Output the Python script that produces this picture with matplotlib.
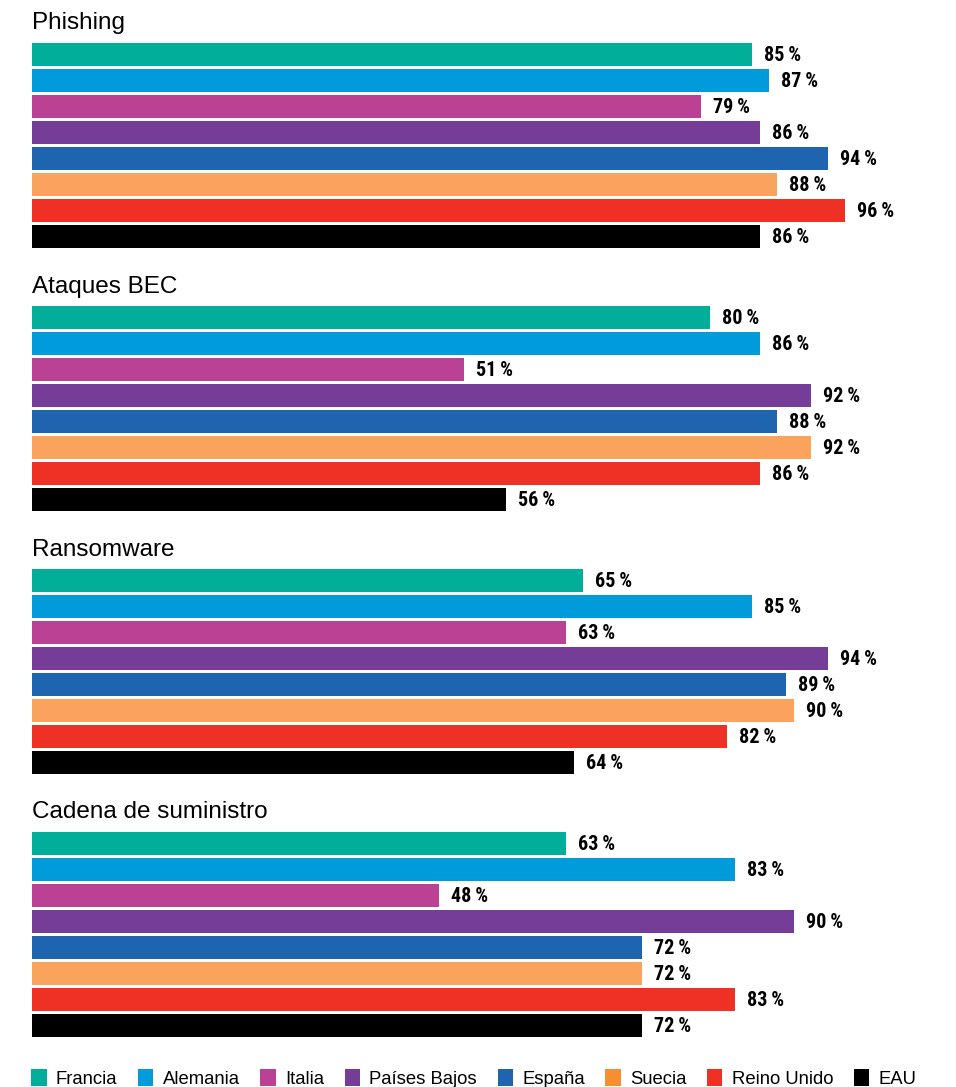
import matplotlib
matplotlib.use("Agg")
import matplotlib.pyplot as plt
from matplotlib.patches import Patch

countries = ["Francia", "Alemania", "Italia", "Países Bajos", "España",
             "Suecia", "Reino Unido", "EAU"]
colors = ["#00ae9a", "#009bdb", "#bb4194", "#763d98", "#1f64ae",
          "#f9a35c", "#ee3124", "#000000"]
legend_colors = ["#00ae9a", "#009bdb", "#bb4194", "#763d98", "#1f64ae",
                 "#f68f30", "#ee3124", "#000000"]

panel_titles = ["Phishing", "Ataques BEC", "Ransomware", "Cadena de suministro"]
phishing = [85, 87, 79, 86, 94, 88, 96, 86]
bec = [80, 86, 51, 92, 88, 92, 86, 56]
ransomware = [65, 85, 63, 94, 89, 90, 82, 64]
supply_chain = [63, 83, 48, 90, 72, 72, 83, 72]
panel_values = [phishing, bec, ransomware, supply_chain]

W, H = 956, 1087
fig = plt.figure(figsize=(W / 100, H / 100), dpi=100)

label_font = ["Liberation Sans Narrow", "Roboto Condensed", "DejaVu Sans"]
title_font = ["Liberation Sans", "DejaVu Sans"]

left_px = 32
width_px = 847  # 100 %
pitch = 26
first_top = 41.5
panel_step = 263

for i, (title, vals) in enumerate(zip(panel_titles, panel_values)):
    top = first_top + i * panel_step
    ax = fig.add_axes([left_px / W, 1 - (top + 8 * pitch) / H,
                       width_px / W, 8 * pitch / H])
    ypos = list(range(len(vals)))
    ax.barh(ypos, vals, height=23 / 26, color=colors, left=0)
    ax.set_xlim(0, 100)
    ax.set_ylim(7.5, -0.5)
    ax.axis("off")
    for y, v in zip(ypos, vals):
        ax.annotate(f"{v}\u2009%", xy=(v, y), xytext=(12, -1),
                    textcoords="offset pixels", va="center", ha="left",
                    fontsize=14.5, fontweight="bold", fontstretch="condensed",
                    family=label_font)
    fig.text(left_px / W, 1 - (top - 12) / H, title, fontsize=17.5,
             family=title_font, va="baseline", ha="left")

handles = [Patch(facecolor=c, label=n) for c, n in zip(legend_colors, countries)]
fig.legend(handles=handles, loc="center left", ncol=8, frameon=False,
           bbox_to_anchor=(24 / W, 1 - 1078.5 / H), prop={"family": title_font, "size": 13.3},
           handlelength=0.83, handleheight=1.0, handletextpad=0.5,
           columnspacing=1.12, borderaxespad=0)

fig.savefig("out.png", dpi=100)
